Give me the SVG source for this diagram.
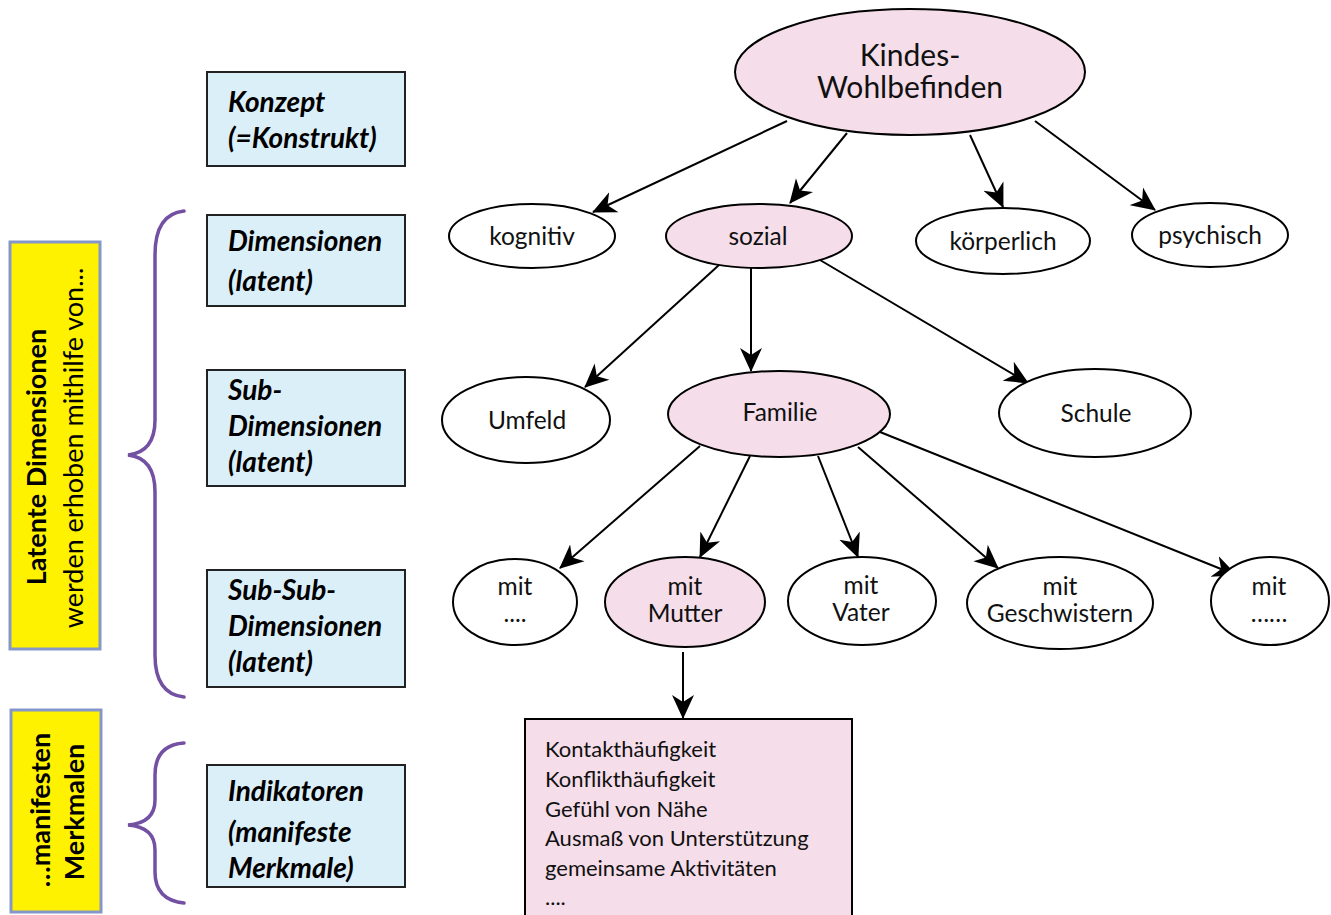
<svg xmlns="http://www.w3.org/2000/svg" width="1331" height="915" viewBox="0 0 1331 915">
<style>
.lbl{fill:#dbeff9;stroke:#222;stroke-width:2}
.lt{font-family:Lato,"Liberation Sans",sans-serif;font-weight:bold;font-style:italic;font-size:28px;fill:#000}
.yb{fill:#fff200;stroke:#8497c8;stroke-width:3}
.yt{font-family:Lato,"Liberation Sans",sans-serif;font-size:27px;fill:#000;text-anchor:middle}
.br{fill:none;stroke:#7350a2;stroke-width:3.5;stroke-linecap:round}
.ew{fill:#fff;stroke:#000;stroke-width:2}
.ep{fill:#f5dde9;stroke:#000;stroke-width:2}
.nt{font-family:Lato,"Liberation Sans",sans-serif;font-size:24.5px;fill:#111;text-anchor:middle}
.big{font-size:30px}
.cn{stroke:#000;stroke-width:2;fill:none;marker-end:url(#ah)}
.it{font-family:Lato,"Liberation Sans",sans-serif;font-size:22px;fill:#111}
</style>
<defs>
<marker id="ah" markerUnits="userSpaceOnUse" markerWidth="24" markerHeight="24" viewBox="0 0 24 24" refX="23" refY="12" orient="auto">
<path d="M0,1 L24,12 L0,23 L7,12 z" fill="#000"/>
</marker>
</defs>

<g id="yellow-latent">
<rect class="yb" x="10" y="242" width="90" height="407"/>
<text class="yt" font-weight="bold" transform="translate(46,457) rotate(-90)">Latente Dimensionen</text>
<text class="yt" transform="translate(83,448) rotate(-90)">werden erhoben mithilfe von...</text>
</g>
<g id="yellow-manifest">
<rect class="yb" x="11" y="710" width="90" height="202"/>
<text class="yt" font-weight="bold" transform="translate(50,810) rotate(-90)">…manifesten</text>
<text class="yt" font-weight="bold" transform="translate(84,812) rotate(-90)">Merkmalen</text>
</g>

<g id="brace-latent">
<path class="br" d="M184,211 Q155,214 155,255 L155,420 Q155,452 128,455 Q155,458 155,492 L155,655 Q155,694 184,697"/>
</g>
<g id="brace-manifest">
<path class="br" d="M184,743 Q155,745 155,775 L155,800 Q155,823 128,825 Q155,827 155,850 L155,872 Q155,900 184,903"/>
</g>

<g id="box-konzept">
<rect class="lbl" x="207" y="72" width="198" height="94"/>
<text class="lt" x="228" y="112">Konzept</text>
<text class="lt" x="228" y="148">(=Konstrukt)</text>
</g>
<g id="box-dimensionen">
<rect class="lbl" x="207" y="215" width="198" height="91"/>
<text class="lt" x="228" y="251">Dimensionen</text>
<text class="lt" x="228" y="291">(latent)</text>
</g>
<g id="box-subdim">
<rect class="lbl" x="207" y="370" width="198" height="116"/>
<text class="lt" x="228" y="400">Sub-</text>
<text class="lt" x="228" y="436">Dimensionen</text>
<text class="lt" x="228" y="472">(latent)</text>
</g>
<g id="box-subsubdim">
<rect class="lbl" x="207" y="570" width="198" height="117"/>
<text class="lt" x="228" y="600">Sub-Sub-</text>
<text class="lt" x="228" y="636">Dimensionen</text>
<text class="lt" x="228" y="672">(latent)</text>
</g>
<g id="box-indikatoren">
<rect class="lbl" x="207" y="765" width="198" height="122"/>
<text class="lt" x="228" y="801">Indikatoren</text>
<text class="lt" x="228" y="842">(manifeste</text>
<text class="lt" x="228" y="878">Merkmale)</text>
</g>

<g id="connectors">
<line class="cn" x1="787" y1="121" x2="593" y2="212"/>
<line class="cn" x1="847" y1="133" x2="790" y2="203"/>
<line class="cn" x1="970" y1="135" x2="1003" y2="207"/>
<line class="cn" x1="1035" y1="121" x2="1155" y2="210"/>
<line class="cn" x1="719" y1="265" x2="585" y2="387"/>
<line class="cn" x1="751" y1="267" x2="751" y2="371"/>
<line class="cn" x1="820" y1="260" x2="1028" y2="383"/>
<line class="cn" x1="700" y1="446" x2="560" y2="568"/>
<line class="cn" x1="750" y1="456" x2="700" y2="557"/>
<line class="cn" x1="818" y1="456" x2="858" y2="557"/>
<line class="cn" x1="858" y1="447" x2="998" y2="568"/>
<line class="cn" x1="880" y1="432" x2="1236" y2="575"/>
<line class="cn" x1="683" y1="652" x2="683" y2="718"/>
</g>

<g id="node-kindes">
<ellipse class="ep" cx="910" cy="72" rx="175" ry="63"/>
<text class="nt big" x="910" y="66">Kindes-</text>
<text class="nt big" x="910" y="98">Wohlbefinden</text>
</g>
<g id="node-kognitiv">
<ellipse class="ew" cx="532" cy="236" rx="83" ry="32"/>
<text class="nt" x="532" y="245">kognitiv</text>
</g>
<g id="node-sozial">
<ellipse class="ep" cx="759" cy="236" rx="93" ry="32"/>
<text class="nt" x="758" y="245">sozial</text>
</g>
<g id="node-koerperlich">
<ellipse class="ew" cx="1003" cy="241" rx="87" ry="33"/>
<text class="nt" x="1003" y="250">körperlich</text>
</g>
<g id="node-psychisch">
<ellipse class="ew" cx="1210" cy="235" rx="78" ry="32"/>
<text class="nt" x="1210" y="244">psychisch</text>
</g>
<g id="node-umfeld">
<ellipse class="ew" cx="526" cy="420" rx="84" ry="43"/>
<text class="nt" x="527" y="429">Umfeld</text>
</g>
<g id="node-familie">
<ellipse class="ep" cx="779" cy="414" rx="111" ry="43"/>
<text class="nt" x="780" y="421">Familie</text>
</g>
<g id="node-schule">
<ellipse class="ew" cx="1095" cy="413" rx="96" ry="44"/>
<text class="nt" x="1096" y="422">Schule</text>
</g>
<g id="node-mit1">
<ellipse class="ew" cx="515" cy="602" rx="62" ry="43"/>
<text class="nt" x="515" y="595">mit</text>
<text class="nt" x="515" y="622">....</text>
</g>
<g id="node-mutter">
<ellipse class="ep" cx="685" cy="602" rx="80" ry="45"/>
<text class="nt" x="685" y="595">mit</text>
<text class="nt" x="685" y="622">Mutter</text>
</g>
<g id="node-vater">
<ellipse class="ew" cx="862" cy="601" rx="74" ry="44"/>
<text class="nt" x="861" y="594">mit</text>
<text class="nt" x="861" y="621">Vater</text>
</g>
<g id="node-geschwister">
<ellipse class="ew" cx="1060" cy="603" rx="93" ry="46"/>
<text class="nt" x="1060" y="595">mit</text>
<text class="nt" x="1060" y="622">Geschwistern</text>
</g>
<g id="node-mit2">
<ellipse class="ew" cx="1270" cy="601" rx="59" ry="44"/>
<text class="nt" x="1269" y="595">mit</text>
<text class="nt" x="1269" y="622">……</text>
</g>

<g id="box-indicators">
<rect class="ep" x="525" y="719" width="327" height="200"/>
<text class="it" x="545" y="757">Kontakthäufigkeit</text>
<text class="it" x="545" y="787">Konflikthäufigkeit</text>
<text class="it" x="545" y="817">Gefühl von Nähe</text>
<text class="it" x="545" y="846">Ausmaß von Unterstützung</text>
<text class="it" x="545" y="876">gemeinsame Aktivitäten</text>
<text class="it" x="545" y="905">....</text>
</g>
</svg>
